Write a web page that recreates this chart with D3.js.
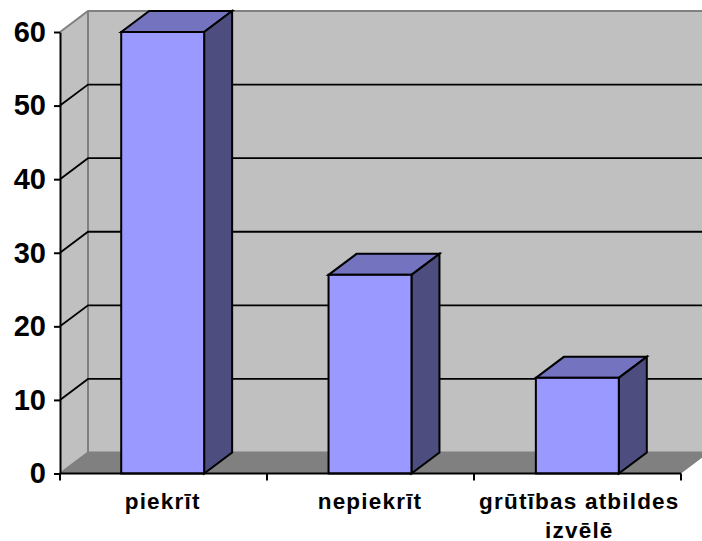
<!DOCTYPE html>
<html><head><meta charset="utf-8">
<style>html,body{margin:0;padding:0;background:#fff}svg{display:block}text{font-family:"Liberation Sans",Arial,sans-serif;font-weight:bold;fill:#000}</style>
<script src="https://cdn.jsdelivr.net/npm/d3@7"></script></head><body><script>
const categories = [["piekrīt"], ["nepiekrīt"], ["grūtības atbildes", "izvēlē"]];
const values = [60, 27, 13];
const yTicks = [0, 10, 20, 30, 40, 50, 60];

const W = 702, H = 541, dx = 28, dy = -21;
const svg = d3.select("body").append("svg").attr("width", W).attr("height", H);
const keys = categories.map((c, i) => i);
const x = d3.scaleBand().domain(keys).range([59, 681]).paddingInner(0.6).paddingOuter(0.3);
const y = d3.scaleLinear().domain([0, 60]).range([473.5, 32]);
const pts = a => a.map(p => p.join(",")).join(" ");
const x0 = 60, x1 = 681, step = (x1 - x0) / categories.length, yb = y(0), yt = y(60);

// walls and floor
svg.append("polygon").attr("points", pts([[x0 + dx, yt + dy], [x1 + dx, yt + dy], [x1 + dx, yb + dy], [x0 + dx, yb + dy]])).attr("fill", "#c0c0c0");
svg.append("polygon").attr("points", pts([[x0, yt], [x0 + dx, yt + dy], [x0 + dx, yb + dy], [x0, yb]])).attr("fill", "#c0c0c0");
svg.append("polygon").attr("points", pts([[x0, yb], [x0 + dx, yb + dy], [x1 + dx, yb + dy], [x1, yb]])).attr("fill", "#808080");
// wall outline
svg.append("path").attr("d", `M${x0},${yt}L${x0 + dx},${yt + dy}L${x1 + dx},${yt + dy}M${x0 + dx},${yt + dy}V${yb + dy}L${x0},${yb}M${x0 + dx},${yb + dy}H${x1 + dx}`)
  .attr("fill", "none").attr("stroke", "#808080").attr("stroke-width", 2);
// gridlines
yTicks.filter(t => t > 0 && t < 60).forEach(t => {
  svg.append("path").attr("d", `M${x0},${y(t)}L${x0 + dx},${y(t) + dy}H${x1 + dx}`)
    .attr("fill", "none").attr("stroke", "#000").attr("stroke-width", 1.8);
});
// bars
values.forEach((v, i) => {
  const l = x(i), r = l + x.bandwidth(), t = y(v), b = yb;
  const g = svg.append("g").attr("stroke", "#000").attr("stroke-width", 2).attr("stroke-linejoin", "miter");
  g.append("polygon").attr("points", pts([[l, t], [l + dx, t + dy], [r + dx, t + dy], [r, t]])).attr("fill", "#7373bf");
  g.append("polygon").attr("points", pts([[r, t], [r + dx, t + dy], [r + dx, b + dy], [r, b]])).attr("fill", "#4d4d80");
  g.append("rect").attr("x", l).attr("y", t).attr("width", r - l).attr("height", b - t).attr("fill", "#9999ff");
});
// axes
const gy = svg.append("g").attr("transform", `translate(${x0},0)`).call(d3.axisLeft(y).tickValues(yTicks).tickSize(6).tickPadding(8).tickSizeOuter(0));
gy.selectAll("line,path").attr("stroke", "#000").attr("stroke-width", 2);
gy.selectAll("text").attr("font-size", 29).style("font-family", '"Liberation Sans"').style("font-weight", "bold");
const tickPos = d3.range(categories.length + 1).map(i => x0 + i * step);
const gx = svg.append("g").attr("transform", `translate(0,${yb})`);
gx.append("path").attr("d", `M${x0},0H${x1}`).attr("stroke", "#000").attr("stroke-width", 2);
gx.selectAll("line").data(tickPos).join("line").attr("x1", d => d).attr("x2", d => d).attr("y1", 0).attr("y2", 7).attr("stroke", "#000").attr("stroke-width", 2);
categories.forEach((lines, i) => {
  const cx = x(i) + x.bandwidth() / 2 + (lines.length > 1 ? 2 : 0);
  lines.forEach((s, j) => {
    svg.append("text").attr("x", cx).attr("y", 508.5 + j * 29).attr("text-anchor", "middle").attr("font-size", 22.5).attr("letter-spacing", 1.2).text(s);
  });
});
</script></body></html>
